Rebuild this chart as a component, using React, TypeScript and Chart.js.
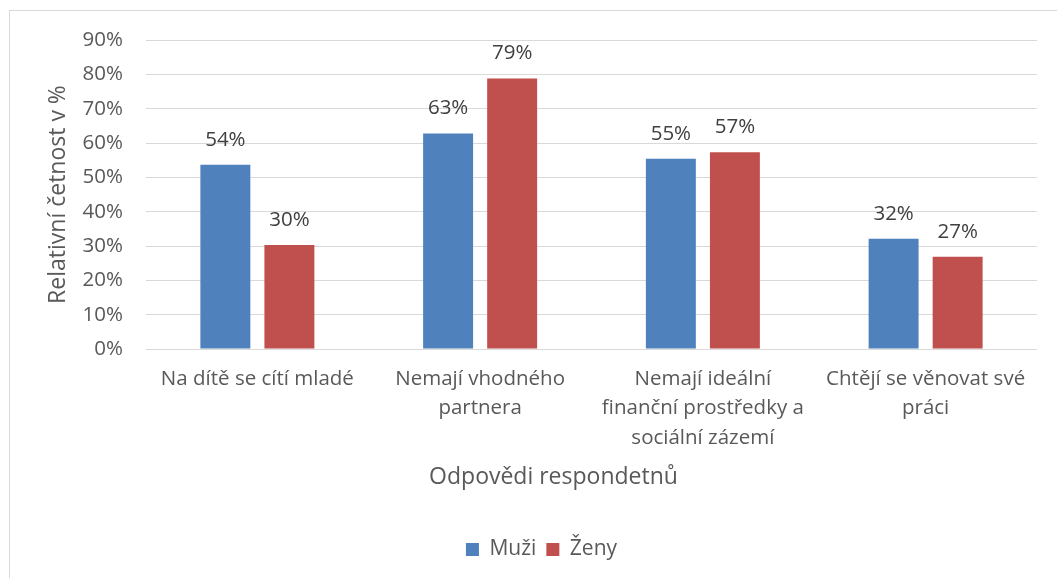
import React, { useEffect, useRef } from "react";
import { Chart, registerables } from "chart.js";

Chart.register(...registerables);

const categories: (string | string[])[] = [
  "Na dítě se cítí mladé",
  ["Nemají vhodného", "partnera"],
  ["Nemají ideální", "finanční prostředky a", "sociální zázemí"],
  ["Chtějí se věnovat své", "práci"],
];
const muzi = [53.7, 62.8, 55.4, 32.1];
const zeny = [30.3, 78.8, 57.3, 26.9];
const yTicks = [0, 10, 20, 30, 40, 50, 60, 70, 80, 90];
const xTitle = "Odpovědi respondetnů";

const FONT = "'Open Sans', sans-serif";
const TXT = "#595959";

const labelPlugin = {
  id: "valueLabels",
  afterLayout(chart: any) {
    if (chart.legend) {
      chart.legend.left = 46;
      chart.legend.right = 1037;
    }
  },
  afterDatasetsDraw(chart: any) {
    const ctx = chart.ctx;
    ctx.save();
    ctx.font = `20.5px ${FONT}`;
    ctx.fillStyle = "#404040";
    ctx.textAlign = "center";
    ctx.textBaseline = "alphabetic";
    chart.data.datasets.forEach((ds: any, i: number) => {
      const meta = chart.getDatasetMeta(i);
      meta.data.forEach((bar: any, j: number) => {
        const v = ds.data[j];
        ctx.fillText(Math.round(v) + "%", bar.x, bar.y - 19);
      });
    });
    // x-axis title, centred on the whole chart box as in the original
    ctx.font = `23px ${FONT}`;
    ctx.fillStyle = TXT;
    ctx.textBaseline = "middle";
    const xs = chart.scales.x;
    ctx.fillText(xTitle, 553.5, xs.top + 128);
    ctx.restore();
  },
};

export default function App() {
  const ref = useRef<HTMLCanvasElement>(null);
  useEffect(() => {
    if (!ref.current) return;
    const chart = new Chart(ref.current, {
      type: "bar",
      data: {
        labels: categories,
        datasets: [
          { label: "Muži", data: muzi, backgroundColor: "#4F81BD" },
          { label: "Ženy", data: zeny, backgroundColor: "#C0504D" },
        ],
      },
      options: {
        animation: false,
        responsive: false,
        maintainAspectRatio: false,
        layout: { padding: { left: 0, right: 20, top: 40, bottom: 8 } },
        datasets: { bar: { categoryPercentage: 0.575, barPercentage: 0.78 } } as any,
        plugins: {
          legend: {
            position: "bottom",
            labels: {
              font: { family: FONT, size: 21 },
              color: TXT,
              boxWidth: 13,
              boxHeight: 13,
              padding: 10,
            },
          },
          tooltip: { enabled: false },
        },
        scales: {
          x: {
            grid: { display: false, drawTicks: false },
            border: { display: false },
            ticks: {
              font: { family: FONT, size: 20.5, lineHeight: 1.45 },
              color: TXT,
              padding: 15,
              maxRotation: 0,
              autoSkip: false,
            },
            afterFit: (s: any) => {
              s.height = 180;
            },
          },
          y: {
            min: 0,
            max: 90,
            afterBuildTicks: (s: any) => {
              s.ticks = yTicks.map((v) => ({ value: v }));
            },
            afterFit: (s: any) => {
              s.width = 146;
            },
            grid: { color: "#D9D9D9", drawTicks: false, lineWidth: 1 },
            border: { display: false },
            ticks: {
              font: { family: FONT, size: 20.5 },
              color: TXT,
              padding: 23,
              callback: (v: any) => v + "%",
            },
            title: {
              display: true,
              text: "Relativní četnost v %",
              font: { family: FONT, size: 23 },
              color: TXT,
              padding: { top: 45, bottom: 0 },
            },
          },
        },
      },
      plugins: [labelPlugin],
    });
    return () => chart.destroy();
  }, []);
  return (
    <div
      style={{
        position: "fixed",
        left: 0,
        top: 0,
        width: 1057,
        height: 578,
        background: "#fff",
        overflow: "hidden",
      }}
    >
      <div
        style={{
          position: "absolute",
          left: 9,
          top: 10,
          width: 1060,
          height: 580,
          border: "1px solid #D9D9D9",
          boxSizing: "border-box",
        }}
      />
      <canvas
        ref={ref}
        width={1057}
        height={578}
        style={{ position: "absolute", left: 0, top: 0 }}
      />
    </div>
  );
}
